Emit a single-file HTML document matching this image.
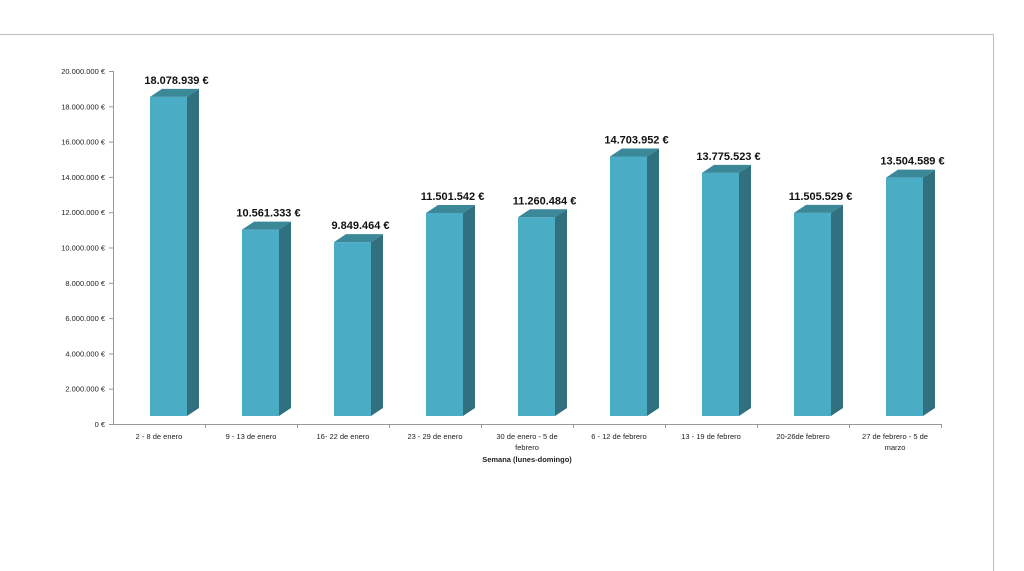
<!DOCTYPE html>
<html><head><meta charset="utf-8"><style>
body{margin:0;background:#fff;font-family:"Liberation Sans",sans-serif}
svg{display:block}
</style></head><body>
<svg width="1024" height="571">
<line x1="0" y1="34.5" x2="993" y2="34.5" stroke="#bdbdbd"/>
<line x1="993.5" y1="34" x2="993.5" y2="571" stroke="#bdbdbd"/>
<g id="g"></g>
</svg>
<script>
const categories=[["2 - 8 de enero"],["9 - 13 de enero"],["16- 22 de enero"],["23 - 29 de enero"],["30 de enero - 5 de","febrero"],["6 - 12 de febrero"],["13 - 19 de febrero"],["20-26de febrero"],["27 de febrero - 5 de","marzo"]];
const values=[18078939,10561333,9849464,11501542,11260484,14703952,13775523,11505529,13504589];
const valueLabels=["18.078.939 €","10.561.333 €","9.849.464 €","11.501.542 €","11.260.484 €","14.703.952 €","13.775.523 €","11.505.529 €","13.504.589 €"];
const ticks=[0,2000000,4000000,6000000,8000000,10000000,12000000,14000000,16000000,18000000,20000000];
const tickLabels=["0 €","2.000.000 €","4.000.000 €","6.000.000 €","8.000.000 €","10.000.000 €","12.000.000 €","14.000.000 €","16.000.000 €","18.000.000 €","20.000.000 €"];
const NS="http://www.w3.org/2000/svg",g=document.getElementById('g');
const x0=113,x1=941,y0=424,yTop=71,maxV=20000000,step=(x1-x0)/categories.length;
const y=v=>y0-(v/maxV)*(y0-yTop);
function mk(t,a,txt){const e=document.createElementNS(NS,t);for(const k in a)e.setAttribute(k,a[k]);if(txt!=null)e.textContent=txt;g.appendChild(e);return e;}
let e=mk('line',{x1:x0+.5,y1:yTop,x2:x0+.5,y2:y0,stroke:'#999'});


e=mk('line',{x1:x0,y1:y0+.5,x2:x1,y2:y0+.5,stroke:'#999'});


ticks.forEach((t,i)=>{
 mk('line',{x1:x0-4,x2:x0,y1:y(t)+.5,y2:y(t)+.5,stroke:'#999'});
 e=mk('text',{x:x0-8,y:y(t)+3,'font-size':7.5,'text-anchor':'end',fill:'#222'},tickLabels[i]);
 
 
});
const dx=12,dy=8,w=37;
categories.forEach((c,i)=>{
 mk('line',{x1:x0+step*(i+1)+.5,x2:x0+step*(i+1)+.5,y1:y0,y2:y0+4,stroke:'#999'});
 const cx=x0+step*(i+0.5),l=cx-9,b=y0-dy,top=y(values[i])-dy;
 const bg=document.createElementNS(NS,'g');
 
 
 g.appendChild(bg);
 const p=(pts,f)=>{const q=document.createElementNS(NS,'polygon');q.setAttribute('points',pts);q.setAttribute('fill',f);bg.appendChild(q);};
 p(`${l},${b} ${l+w},${b} ${l+w},${top} ${l},${top}`,'#4BACC6');
 p(`${l+w},${b} ${l+w+dx},${b-dy} ${l+w+dx},${top-dy} ${l+w},${top}`,'#31707F');
 p(`${l},${top} ${l+w},${top} ${l+w+dx},${top-dy} ${l+dx},${top-dy}`,'#3B8899');
 e=mk('text',{x:l+(w+dx)/2+2,y:top-dy-5,'font-size':11,'font-weight':'bold','text-anchor':'middle',fill:'#111'},valueLabels[i]);
 
 
 c.forEach((s,j)=>{
  e=mk('text',{x:cx,y:y0+15+j*11,'font-size':7.5,'text-anchor':'middle',fill:'#222'},s);
  
  
 });
});
e=mk('text',{x:527,y:462,'font-size':7.5,'font-weight':'bold','text-anchor':'middle',fill:'#222'},'Semana (lunes-domingo)');


</script>
</body></html>
